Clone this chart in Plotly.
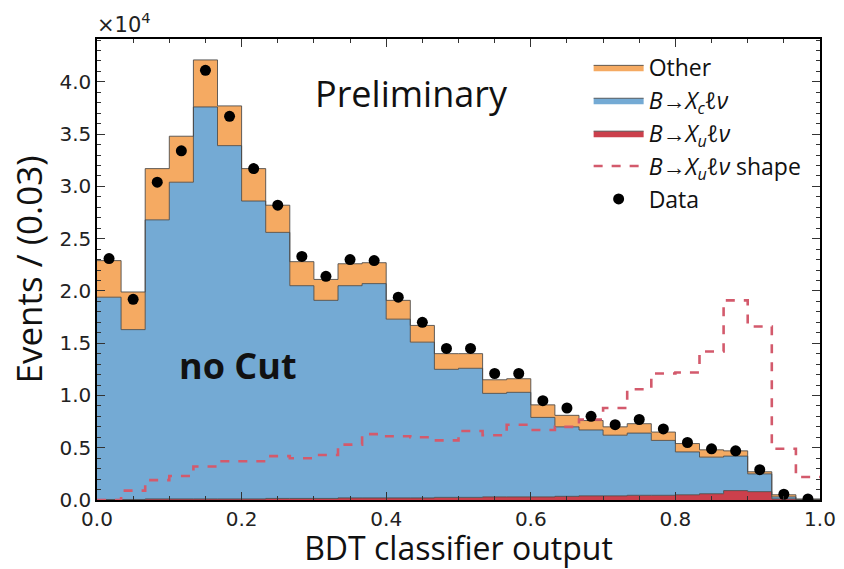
import numpy as np
import plotly.graph_objects as go

# ---- data (event counts in units of 1e4, 30 bins on [0, 1]) ----
n_bins = 30
bin_edges = list(np.linspace(0.0, 1.0, n_bins + 1))
bin_centers = [(bin_edges[i] + bin_edges[i + 1]) / 2 for i in range(n_bins)]

xu_lnu = [0.005, 0.005, 0.01, 0.01, 0.01, 0.01, 0.01, 0.015, 0.015, 0.015,
          0.02, 0.02, 0.02, 0.02, 0.025, 0.025, 0.03, 0.03, 0.03, 0.035,
          0.04, 0.04, 0.045, 0.045, 0.05, 0.06, 0.09, 0.08, 0.01, 0.0]
xc_lnu = [1.935, 1.625, 2.67, 3.03, 3.75, 3.38, 2.85, 2.545, 2.035, 1.895,
          2.03, 2.05, 1.71, 1.49, 1.225, 1.235, 0.99, 1.0, 0.76, 0.665,
          0.63, 0.58, 0.595, 0.525, 0.41, 0.35, 0.33, 0.17, 0.02, 0.005]
other = [0.35, 0.36, 0.49, 0.44, 0.45, 0.38, 0.31, 0.26, 0.23, 0.20,
         0.21, 0.20, 0.18, 0.16, 0.15, 0.14, 0.13, 0.13, 0.12, 0.11,
         0.09, 0.08, 0.09, 0.08, 0.08, 0.07, 0.05, 0.02, 0.02, 0.005]
xu_shape = [0.0, 0.09, 0.19, 0.23, 0.32, 0.37, 0.37, 0.42, 0.40, 0.43,
            0.53, 0.63, 0.61, 0.60, 0.57, 0.66, 0.62, 0.72, 0.67, 0.70,
            0.77, 0.88, 1.06, 1.21, 1.22, 1.42, 1.91, 1.66, 0.49, 0.22]
data = [2.31, 1.92, 3.04, 3.34, 4.11, 3.67, 3.17, 2.82, 2.33, 2.14,
        2.30, 2.29, 1.94, 1.70, 1.45, 1.45, 1.21, 1.21, 0.95, 0.88,
        0.80, 0.72, 0.77, 0.68, 0.55, 0.49, 0.47, 0.29, 0.055, 0.01]
data_err = [0.015, 0.014, 0.017, 0.018, 0.020, 0.019, 0.018, 0.017, 0.015, 0.015,
            0.015, 0.015, 0.014, 0.013, 0.012, 0.012, 0.011, 0.011, 0.010, 0.009,
            0.009, 0.008, 0.009, 0.008, 0.007, 0.007, 0.007, 0.005, 0.002, 0.001]

y_ticks = [0.0, 0.5, 1.0, 1.5, 2.0, 2.5, 3.0, 3.5, 4.0]
x_ticks = [0.0, 0.2, 0.4, 0.6, 0.8, 1.0]

# ---- colours ----
c_other = "#F5AA62"
c_xc = "#74AAD4"
c_xu = "#CB404C"
c_shape = "#D35A6C"
c_edge = "rgba(70,70,70,0.85)"

# cumulative stacks
s_xu = list(np.array(xu_lnu))
s_xc = list(np.array(xu_lnu) + np.array(xc_lnu))
s_other = list(np.array(s_xc) + np.array(other))


def step(vals):
    return list(vals) + [vals[-1]]


fig = go.Figure()

fig.add_trace(go.Scatter(
    x=bin_edges, y=step(s_xu), mode="lines", line_shape="hv",
    line=dict(color=c_edge, width=1), fill="tozeroy", fillcolor=c_xu,
    name="<i>B</i>→<i>X<sub>u</sub>ℓν</i>", legendrank=3, legendgroup="c"))
fig.add_trace(go.Scatter(
    x=bin_edges, y=step(s_xc), mode="lines", line_shape="hv",
    line=dict(color=c_edge, width=1), fill="tonexty", fillcolor=c_xc,
    name="<i>B</i>→<i>X<sub>c</sub>ℓν</i>", legendrank=2, legendgroup="b"))
fig.add_trace(go.Scatter(
    x=bin_edges, y=step(s_other), mode="lines", line_shape="hv",
    line=dict(color=c_edge, width=1), fill="tonexty", fillcolor=c_other,
    name="Other", legendrank=1, legendgroup="a"))
fig.add_trace(go.Scatter(
    x=bin_edges, y=step(xu_shape), mode="lines", line_shape="hv",
    line=dict(color=c_shape, width=2.6, dash="dash"),
    name="<i>B</i>→<i>X<sub>u</sub>ℓν</i> shape", legendrank=4, legendgroup="d"))
fig.add_trace(go.Scatter(
    x=bin_centers, y=data, mode="markers",
    marker=dict(color="black", size=11),
    error_y=dict(type="data", array=data_err, color="black", thickness=1.5, width=0),
    name="Data", legendrank=5, legendgroup="e"))

tickfont = dict(family="DejaVu Sans", size=20, color="#222")
axis_common = dict(
    showline=True, linecolor="black", linewidth=1.5, mirror="allticks",
    ticks="inside", ticklen=8, tickwidth=1.2, tickcolor="#333",
    showgrid=False, zeroline=False, tickfont=tickfont, automargin=False,
)

fig.update_xaxes(
    range=[0, 1], tickvals=x_ticks, ticktext=[f"{v:.1f}" for v in x_ticks],
    minor=dict(dtick=0.05, ticks="inside", ticklen=4, tickcolor="#333", showgrid=False),
    ticklabelstandoff=0,
    title=dict(text="BDT classifier output",
               font=dict(family="Open Sans", size=32, color="#111"), standoff=8),
    **axis_common)
fig.update_yaxes(
    range=[0, 4.41], tickvals=y_ticks, ticktext=[f"{v:.1f}" for v in y_ticks],
    minor=dict(dtick=0.1, ticks="inside", ticklen=4, tickcolor="#333", showgrid=False),
    title=dict(text="Events / (0.03)",
               font=dict(family="Open Sans", size=35, color="#111"), standoff=6),
    **axis_common)

fig.add_annotation(x=0, y=1, xref="paper", yref="paper", xanchor="left", yanchor="bottom",
                   text="×10<sup>4</sup>", showarrow=False, yshift=0, xshift=-2,
                   font=dict(family="DejaVu Sans", size=21, color="#222"))
fig.add_annotation(x=0.435, y=3.89, xref="x", yref="y", xanchor="center", yanchor="middle",
                   text="Preliminary", showarrow=False,
                   font=dict(family="Open Sans", size=36, color="#111"))
fig.add_annotation(x=0.195, y=1.29, xref="x", yref="y", xanchor="center", yanchor="middle",
                   text="<b>no Cut</b>", showarrow=False,
                   font=dict(family="Open Sans", size=36, color="#111"))

fig.update_layout(
    width=844, height=569,
    margin=dict(l=97, r=24, t=39, b=69),
    paper_bgcolor="white", plot_bgcolor="white",
    showlegend=True,
    legend=dict(x=0.68, y=0.985, xanchor="left", yanchor="top",
                bgcolor="rgba(0,0,0,0)", borderwidth=0,
                font=dict(family="Open Sans", size=23, color="#111"),
                tracegroupgap=4, itemwidth=50, traceorder="normal"),
)

fig.write_html("out.html")
